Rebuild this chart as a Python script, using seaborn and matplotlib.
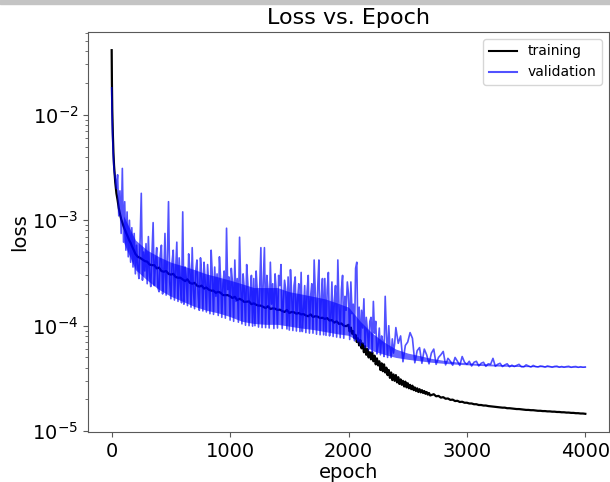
import numpy as np
import pandas as pd
import seaborn as sns
import matplotlib.pyplot as plt
from matplotlib.patches import Rectangle

# epochs: dense at the start where the loss drops fast
epochs_early = [0, 2, 5, 10, 15, 20, 30, 40, 50, 60, 70, 80, 90, 100,
                110, 120, 130, 140, 150, 160, 170, 180, 190]
train_epochs = (epochs_early + list(range(200, 2000, 20)) + list(range(2000, 2700, 10))
                + list(range(2700, 4001, 20)))
val_epochs = epochs_early + list(range(200, 2401, 10)) + list(range(2420, 4001, 20))

# losses, in units of 1e-5
train_early = [4100, 2000, 1100, 650, 430, 330, 230, 180, 155, 130, 115, 103,
               95, 88, 82, 77, 72, 68, 64, 61, 57, 54, 51]
# every 20 epochs, 200-1980
train_mid = [
    48, 45, 44, 42.5, 41, 40.5, 38, 37.5, 37.5, 35,
    35.5, 33, 32.5, 33, 31, 30.5, 31, 29, 28.5, 28.5,
    27.5, 26.5, 27.5, 25.5, 25, 25.5, 24, 23.5, 24, 22.5,
    23, 22, 21.5, 21.5, 20.5, 21, 20.5, 19.5, 19.5, 19.5,
    19, 18.3, 18.8, 17.5, 18, 17.5, 16.8, 16.9, 17, 16,
    16.3, 15.8, 15.5, 15.5, 15.1, 14.7, 15.3, 14.4, 14.6, 14.5,
    14.1, 14.2, 13.8, 13.5, 14.1, 13.2, 13.5, 13.4, 13, 13.2,
    12.8, 12.9, 12.5, 12.3, 12.8, 12.1, 12.3, 12.2, 11.8, 11.9,
    11.6, 11.8, 11.2, 11.3, 10.7, 11, 10.4, 10.5, 10, 9.9,
]
# every 10 epochs, 2000-2690 (noisy drop)
train_drop = [
    10.2, 8.8, 9.6, 8.4, 8.9, 7.6, 8.2, 7.0, 7.6, 6.5,
    7.3, 6.1, 6.8, 5.6, 6.4, 5.3, 6.0, 5.0, 5.6, 4.8,
    5.6, 4.6, 5.2, 4.3, 4.9, 4.2, 4.6, 3.8, 4.4, 3.7,
    4.3, 3.6, 4.0, 3.4, 3.8, 3.2, 3.6, 3.05, 3.45, 3.0,
    3.4, 2.9, 3.25, 2.8, 3.1, 2.75, 3.0, 2.65, 2.95, 2.6,
    2.85, 2.55, 2.75, 2.5, 2.7, 2.45, 2.6, 2.4, 2.55, 2.35,
    2.5, 2.33, 2.45, 2.3, 2.4, 2.26, 2.35, 2.22, 2.3, 2.18,
]
# every 20 epochs, 2700-4000
train_late = [
    2.2, 2.24, 2.14, 2.16, 2.08,
    2.1, 2.03, 2.04, 1.98, 1.99, 1.93, 1.94, 1.89, 1.9, 1.86,
    1.86, 1.83, 1.83, 1.8, 1.8, 1.77, 1.77, 1.75, 1.75, 1.73,
    1.72, 1.71, 1.7, 1.69, 1.68, 1.67, 1.67, 1.65, 1.65, 1.64,
    1.63, 1.62, 1.62, 1.61, 1.6, 1.59, 1.59, 1.58, 1.58, 1.57,
    1.56, 1.56, 1.55, 1.55, 1.54, 1.54, 1.53, 1.53, 1.52, 1.52,
    1.51, 1.51, 1.5, 1.5, 1.49, 1.49, 1.48, 1.48, 1.47, 1.47,
    1.46,
]

val_early = [1800, 1200, 800, 520, 380, 300, 250, 200, 270, 110, 190, 75,
             310, 62, 150, 52, 120, 45, 100, 40, 85, 36, 75]
# every 10 epochs from 200 to 2400
val_dense = [
    31, 58, 36, 28, 64, 180, 27, 50, 33, 60,
    25, 70, 30, 23.5, 48, 95, 24, 40, 55, 23,
    21, 46, 58, 20, 30, 75, 19.5, 42, 150, 26,
    18, 40, 52, 17.5, 33, 62, 17, 44, 25, 16.5,
    120, 16, 36, 28, 15.5, 48, 34, 15, 55, 22,
    14.5, 33, 42, 20, 14, 44, 31, 13.8, 40, 26,
    13.5, 38, 24, 13, 52, 30, 12.8, 36, 19, 31,
    12.5, 45, 28, 12, 25, 33, 11.8, 84, 22, 29,
    11.3, 35, 26, 11, 42, 17, 28, 10.8, 69, 24,
    10.4, 31, 22, 10.1, 38, 25, 10, 20, 30, 9.9,
    28, 10, 33, 21, 9.7, 24, 55, 9.6, 26, 55,
    9.6, 30, 22, 9.5, 40, 16, 25, 9.4, 31, 21,
    9.5, 30, 24, 38, 9.4, 17, 27, 22, 9.3, 29,
    9.1, 34, 20, 9.0, 24, 29, 8.9, 18, 25, 8.8,
    32, 8.8, 14, 24, 8.6, 21, 30, 8.5, 19, 25,
    8.5, 42, 20, 8.3, 23, 42, 8.2, 18, 28, 8.2,
    28, 8.1, 22, 32, 8.0, 12, 26, 7.9, 17, 24,
    7.8, 42, 15, 7.7, 22, 30, 7.6, 19, 14, 26,
    20, 7.4, 26, 13, 16, 7.2, 35, 40, 7.0, 15,
    6.5, 14, 9.5, 18, 6.2, 12, 9, 5.9, 11, 12,
    5.6, 17, 8.5, 11, 5.4, 6.5, 9.5, 5.3, 8, 7,
    5.1, 19, 8.5, 5.0, 10, 6.2, 5.0, 7.5, 5.5, 6.8,
    9.6,
]
# every 20 epochs from 2420 to 4000
val_late = [
    6.8, 8.0, 4.55, 6.5, 7.0, 8.6, 7.6, 4.45, 5.8,
    6.2, 4.4, 6.0, 5.3, 4.35, 5.5, 6.0, 4.3, 5.0, 5.3,
    5.7, 4.25, 4.9, 4.6, 4.22, 5.0, 4.6, 4.2, 5.1, 4.5,
    4.3, 4.6, 4.15, 4.5, 4.6, 4.15, 4.4, 4.5, 4.12, 4.35,
    4.3, 4.9, 4.12, 4.3, 4.4, 4.1, 4.25, 4.35, 4.08, 4.22,
    4.1, 4.2, 4.3, 4.08, 4.07, 4.25, 4.15, 4.06, 4.2, 4.1,
    4.06, 4.15, 4.12, 4.05, 4.15, 4.1, 4.04, 4.11, 4.13, 4.04,
    4.1, 4.04, 4.09, 4.12, 4.03, 4.08, 4.1, 4.03, 4.08, 4.04,
    4.06,
]

# solid part of the validation band (lower / upper edge), read every 100 epochs
band_epochs = list(range(100, 4001, 100))
val_band_low = [62, 34, 27, 22, 19, 17, 15.2, 14, 13.2, 12.2,
                11, 10.5, 10.3, 10.3, 9.9, 9.5, 9.2, 8.8, 8.4, 8.1,
                7.0, 5.8, 5.35, 5.0, 4.8, 4.65, 4.5, 4.4, 4.32, 4.26,
                4.2, 4.16, 4.13, 4.11, 4.09, 4.08, 4.07, 4.06, 4.05, 4.05]
val_band_high = [110, 65, 52, 45, 40, 37, 34, 31, 29, 27,
                 25, 23, 23, 23, 21, 20, 19, 18, 16.5, 15,
                 11, 8.5, 7, 6, 5.5, 5.2, 4.9, 4.7, 4.55, 4.45,
                 4.38, 4.33, 4.28, 4.24, 4.2, 4.18, 4.16, 4.14, 4.12, 4.11]

train_df = pd.DataFrame({'epoch': train_epochs,
                         'loss': np.array(train_early + train_mid + train_drop + train_late) * 1e-5})
val_df = pd.DataFrame({'epoch': val_epochs,
                       'loss': np.array(val_early + val_dense + val_late) * 1e-5})
band = pd.DataFrame({'epoch': band_epochs,
                     'low': np.array(val_band_low) * 1e-5,
                     'high': np.array(val_band_high) * 1e-5})

fig = plt.figure(figsize=(6.1, 4.82), dpi=100)
ax = fig.add_axes([88 / 610, 50 / 482, 521 / 610, 400 / 482])

# grey screenshot bar at the very top
fig.patches.append(Rectangle((0, 1 - 4 / 482), 1, 4 / 482, transform=fig.transFigure,
                             color='#c4c4c4', zorder=0))

sns.lineplot(data=train_df, x='epoch', y='loss', color='black', lw=1.6,
             label='training', ax=ax)
# band goes above the training line so the overlap turns dark blue
ax.fill_between(band['epoch'], band['low'], band['high'], color='blue',
                alpha=0.6, lw=0, zorder=2)
sns.lineplot(data=val_df, x='epoch', y='loss', color='blue', alpha=0.68, lw=1.2,
             label='validation', ax=ax)

ax.set_yscale('log')
ax.set_title('Loss vs. Epoch', fontsize=16)
ax.set_xlabel('epoch', fontsize=14, labelpad=2)
ax.set_ylabel('loss', fontsize=14, labelpad=2)
ax.tick_params(labelsize=14)
ax.set_xticks([0, 1000, 2000, 3000, 4000])
for s in ax.spines.values():
    s.set_color('0.35')
ax.tick_params(which='both', color='0.35')
leg = ax.legend(loc='upper right', fontsize=10)
for h in leg.get_lines():
    h.set_linewidth(1.5)

fig.savefig('out.png', dpi=100)
